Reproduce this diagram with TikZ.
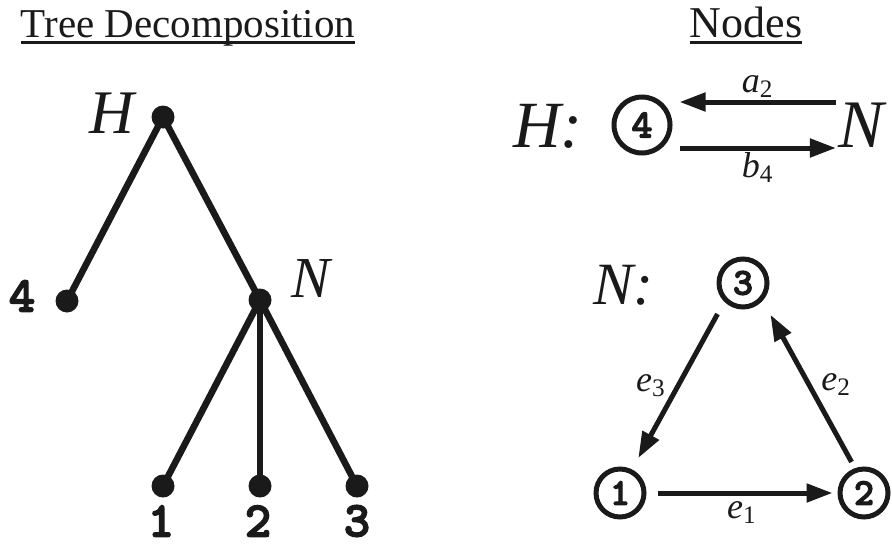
\documentclass[tikz,border=0pt]{standalone}
\usepackage{amsmath}
\usepackage{fontspec}
\setmainfont{Liberation Serif}
\newfontfamily\dgtfont[FakeBold=3]{lmmonolt10-bold.otf}
\usetikzlibrary{arrows.meta}
\definecolor{ink}{HTML}{1A1A1A}
\newcommand{\ulbox}[1]{\setbox0\hbox{#1}\dp0=0pt\dimen0=\wd0\vtop{\box0\kern2pt\hrule height1.5pt width\dimen0}}
\newcommand{\fsz}[1]{\fontsize{#1}{#1}\selectfont}
\tikzset{
  every node/.style={text=ink},
  % tree dots and graph vertices
  dot/.style={circle, fill=ink, inner sep=0pt, minimum size=11.5pt},
  vtx/.style={circle, draw=ink, line width=2.5pt, inner sep=0pt, minimum size=24pt, font=\fsz{19}\dgtfont},
  tedge/.style={draw=ink, line width=3.3pt},
  arr/.style={-{Triangle[length=13pt,width=9pt]}, line width=2.5pt, draw=ink},
  ttl/.style={anchor=base, inner sep=0pt},
  ital/.style={inner sep=0pt, font=\fsz{#1}\itshape},
  leaf/.style={inner sep=0pt, font=\fsz{25}\dgtfont},
  elbl/.style={inner sep=1pt, font=\fsz{18}},
}

\begin{document}
\begin{tikzpicture}[x=0.5pt, y=-0.5pt]
  \useasboundingbox (0,0) rectangle (892,546);

  % ---- left: the tree decomposition ----
  \node[ttl, font=\fsz{20.5}] (ttree) at (188,37) {\ulbox{Tree Decomposition}};
  \node[dot] (dH) at (163,117) {};
  \node[dot] (d4) at (67,301)  {};
  \node[dot] (dN) at (260,300) {};
  \node[dot] (d1) at (163,486) {};
  \node[dot] (d2) at (260,486) {};
  \node[dot] (d3) at (357,486) {};

  \draw[tedge] (dH.center) -- (d4.center);
  \draw[tedge] (dH.center) -- (dN.center);
  \foreach \i in {1,2,3}
    \draw[tedge] (dN.center) -- (d\i.center);

  \node[ital=31] (lH) at (112,113) {H};
  \node[ital=29] (lN) at (311,279) {N};
  \node[leaf] (l4) at (22,296) {4};
  \foreach \i/\x in {1/161, 2/258, 3/357}
    \node[leaf] (l\i) at (\x,521) {\i};

  % ---- right: the nodes ----
  \node[ttl, font=\fsz{22}] (tnodes) at (746,37) {\ulbox{Nodes}};

  % node H
  \node[ital=33] (hH) at (548,126) {H:};
  \node[vtx, minimum size=28pt, font=\fsz{20}\dgtfont] (c4) at (642,125) {4};
  \node[ital=34] (hN) at (861,125) {N};
  \draw[arr] ([xshift=-1pt,yshift=11.5pt]hN.west) -- node[elbl, above] (la) {$\textit{a}_{\textrm{2}}$} ([xshift=3.5pt,yshift=11.5pt]c4.east);
  \draw[arr] ([xshift=3.5pt,yshift=-11.5pt]c4.east) -- node[elbl, below] (lb) {$\textit{b}_{\textrm{4}}$} ([xshift=-1pt,yshift=-11.5pt]hN.west);

  % node N
  \node[ital=30] (hN2) at (623,285) {N:};
  \node[vtx] (c3) at (743,283) {3};
  \node[vtx] (c1) at (620,493) {1};
  \node[vtx] (c2) at (864,493) {2};
  \draw[arr, shorten <=5.5pt, shorten >=2.5pt] (c1) -- node[elbl, below=2pt] (le1) {$\textit{e}_{\textrm{1}}$} (c2);
  \draw[arr, shorten <=3.5pt, shorten >=8pt] (c2.110) -- node[elbl, right=4pt] (le2) {$\textit{e}_{\textrm{2}}$} (c3.318);
  \draw[arr, shorten <=7pt, shorten >=6.5pt] (c3.225) -- node[elbl, left=4pt] (le3) {$\textit{e}_{\textrm{3}}$} (c1.63);
\end{tikzpicture}
\end{document}
